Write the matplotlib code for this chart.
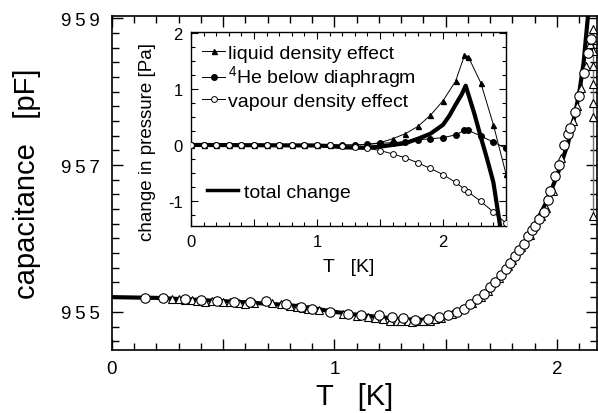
import matplotlib
matplotlib.use("Agg")
import matplotlib.pyplot as plt
from matplotlib.ticker import MultipleLocator, FixedLocator, FuncFormatter
from matplotlib.lines import Line2D

plt.rcParams['font.family'] = ['Liberation Sans', 'DejaVu Sans']
plt.rcParams['mathtext.fontset'] = 'custom'
plt.rcParams['mathtext.rm'] = 'Liberation Sans'

# ---------------- main data ----------------
circ_T = [0.15, 0.23, 0.33, 0.40, 0.47, 0.55, 0.62, 0.69, 0.78, 0.85, 0.90, 0.98, 1.06, 1.12,
          1.20, 1.26, 1.31, 1.36, 1.42, 1.47, 1.51, 1.55, 1.58, 1.61, 1.64, 1.67, 1.70, 1.72,
          1.75, 1.77, 1.79, 1.81, 1.83, 1.85, 1.87, 1.89, 1.90, 1.92, 1.94, 1.96, 1.97, 1.99,
          2.01, 2.03, 2.05, 2.06, 2.08, 2.10, 2.12, 2.14, 2.153]
circ_C = [955.19, 955.19, 955.17, 955.16, 955.15, 955.14, 955.13, 955.15, 955.11, 955.07, 955.04,
          955.00, 954.97, 954.96, 954.95, 954.93, 954.91, 954.89, 954.90, 954.93, 954.96, 955.00,
          955.04, 955.10, 955.17, 955.24, 955.34, 955.40, 955.50, 955.58, 955.66, 955.76, 955.84,
          955.93, 956.03, 956.12, 956.17, 956.26, 956.36, 956.52, 956.64, 956.85, 957.00, 957.27,
          957.42, 957.50, 957.72, 957.94, 958.25, 958.53, 958.71]

tri_T = [0.27, 0.30, 0.33, 0.36, 0.38, 0.42, 0.45, 0.50, 0.53, 0.57, 0.60, 0.64, 0.72, 0.76,
         0.80, 0.83, 0.86, 0.88, 0.93, 1.04, 1.10, 1.15, 1.18, 1.22, 1.25, 1.28, 1.30, 1.33,
         1.35, 1.38, 1.40, 1.43, 1.45, 1.48, 1.53, 1.62, 1.66, 1.69, 1.74, 1.78, 1.80, 1.84,
         1.88, 1.93, 1.95, 1.98, 2.02, 2.07, 2.09, 2.11, 2.13, 2.15,
         2.163, 2.163, 2.163, 2.163, 2.163, 2.163, 2.163, 2.163]
tri_C = [955.18, 955.17, 955.16, 955.16, 955.15, 955.14, 955.15, 955.13, 955.13, 955.12, 955.11,
         955.12, 955.12, 955.10, 955.08, 955.06, 955.05, 955.04, 955.02, 954.97, 954.94, 954.93,
         954.91, 954.90, 954.88, 954.88, 954.87, 954.87, 954.86, 954.87, 954.87, 954.88, 954.90,
         954.92, 954.97, 955.12, 955.20, 955.28, 955.46, 955.62, 955.70, 955.88, 956.05, 956.30,
         956.42, 956.65, 957.10, 957.60, 957.80, 958.05, 958.35, 958.65,
         958.85, 958.70, 958.55, 958.35, 958.10, 957.85, 957.65, 956.30]

fit_T = [0.0, 0.2, 0.4, 0.6, 0.8, 0.9, 1.0, 1.1, 1.2, 1.3, 1.4, 1.5, 1.55, 1.6, 1.65, 1.7,
         1.75, 1.8, 1.85, 1.9, 1.95, 2.0, 2.05, 2.08, 2.1, 2.12, 2.14, 2.15]
fit_C = [955.20, 955.19, 955.16, 955.13, 955.09, 955.05, 955.00, 954.96, 954.93, 954.90,
         954.89, 954.93, 954.98, 955.06, 955.16, 955.29, 955.46, 955.68, 955.92, 956.18,
         956.48, 956.85, 957.30, 957.68, 957.98, 958.40, 959.05, 959.30]

# ---------------- inset data ----------------
ins_T = [0.0, 0.1, 0.2, 0.3, 0.4, 0.5, 0.6, 0.7, 0.8, 0.9, 1.0, 1.1, 1.2, 1.3, 1.4, 1.5,
         1.6, 1.7, 1.8, 1.9, 2.0, 2.1, 2.17, 2.2, 2.3, 2.4, 2.5]
liquid_P = [0, 0, 0, 0, 0, 0, 0, 0, 0, 0, 0, 0, 0, 0, 0.01, 0.04,
            0.11, 0.20, 0.33, 0.53, 0.79, 1.14, 1.60, 1.58, 1.11, 0.36, -0.52]
he_P = [0, 0, 0, 0, 0, 0, 0, 0, 0, 0, 0, 0, 0, 0, 0.01, 0.03,
        0.04, 0.06, 0.09, 0.11, 0.13, 0.18, 0.26, 0.26, 0.16, 0.05, -0.06]
vapour_P = [0, 0, 0, 0, 0, 0, 0, 0, 0, 0, 0, -0.01, -0.02, -0.04, -0.06, -0.10,
            -0.16, -0.23, -0.32, -0.42, -0.53, -0.67, -0.79, -0.84, -1.01, -1.20, -1.40]
total_T = [0.0, 0.5, 1.0, 1.1, 1.2, 1.3, 1.4, 1.5, 1.6, 1.7, 1.8, 1.9, 2.0, 2.05, 2.1,
           2.15, 2.18, 2.25, 2.3, 2.35, 2.4, 2.45, 2.48]
total_P = [0.0, -0.005, -0.01, -0.02, -0.04, -0.05, -0.05, -0.03, 0.0, 0.03, 0.11, 0.20,
           0.36, 0.52, 0.72, 0.91, 1.06, 0.55, 0.14, -0.25, -0.67, -1.40, -1.90]

labels = ['liquid density effect', r'$^{4}$He below diaphragm', 'vapour density effect']

fig = plt.figure(figsize=(5.98, 4.14), dpi=100)
ax = fig.add_axes([112/598, 63/414, 485/598, 334/414])

ax.plot(fit_T, fit_C, color='black', lw=3.0, zorder=2, solid_capstyle='butt')
ax.plot(tri_T[-8:], tri_C[-8:], color='0.45', lw=1.0, zorder=2)
ax.plot(tri_T, tri_C, ls='none', marker='^', ms=6.0, mfc='white', mec='black', mew=0.8, zorder=3)
ax.plot(circ_T, circ_C, ls='none', marker='o', ms=6.8, mfc='white', mec='black', mew=0.8, zorder=4)

ax.set_xlim(0, 2.18)
ax.set_ylim(954.48, 959.03)
ax.xaxis.set_major_locator(MultipleLocator(0.5))
ax.xaxis.set_minor_locator(MultipleLocator(0.1))
ax.xaxis.set_major_formatter(FuncFormatter(lambda v, p: f'{v:.0f}' if abs(v - round(v)) < 1e-6 else ''))
ax.yaxis.set_major_locator(FixedLocator([955, 957, 959]))
ax.yaxis.set_minor_locator(MultipleLocator(0.2))
ax.yaxis.set_major_formatter(FuncFormatter(lambda v, p: '\u2009'.join(f'{v:.0f}')))
ax.tick_params(which='both', direction='in', top=True, right=True, width=1.0, labelsize=13.5)
ax.tick_params(which='major', length=8)
ax.tick_params(which='minor', length=5)
ax.tick_params(axis='y', pad=9)
ax.tick_params(axis='x', pad=7)
for s in ax.spines.values():
    s.set_linewidth(1.2)
ax.set_xlabel('T   [K]', fontsize=21, labelpad=4)
ax.set_ylabel('capacitance   [pF]', fontsize=21, labelpad=14)

# ---------------- inset ----------------
ins = fig.add_axes([191/598, (414-227)/414, 315/598, 194/414])
ins.set_facecolor('white')
ins.plot(total_T, total_P, color='black', lw=3.0, zorder=2)
l1, = ins.plot(ins_T, liquid_P, color='black', lw=0.7, marker='^', ms=3.6, mfc='black', mec='black', zorder=3)
l2, = ins.plot(ins_T, he_P, color='black', lw=0.7, marker='o', ms=4.0, mfc='black', mec='black', zorder=3)
l3, = ins.plot(ins_T, vapour_P, color='black', lw=0.7, marker='o', ms=4.2, mfc='white', mec='black', mew=0.7, zorder=4)
ins.set_xlim(0, 2.5)
ins.set_ylim(-1.45, 2.02)
ins.xaxis.set_major_locator(MultipleLocator(0.5))
ins.xaxis.set_minor_locator(MultipleLocator(0.1))
ins.xaxis.set_major_formatter(FuncFormatter(lambda v, p: f'{v:.0f}' if abs(v - round(v)) < 1e-6 else ''))
ins.yaxis.set_major_locator(MultipleLocator(1))
ins.yaxis.set_minor_locator(MultipleLocator(0.25))
ins.yaxis.set_major_formatter(FuncFormatter(lambda v, p: f'{v:.0f}'))
ins.tick_params(which='both', direction='in', top=True, right=True, width=0.8, labelsize=12)
ins.tick_params(which='major', length=5)
ins.tick_params(which='minor', length=3)
ins.tick_params(axis='y', pad=6)
ins.tick_params(axis='x', pad=6)
for s in ins.spines.values():
    s.set_linewidth(1.0)
ins.set_xlabel('T   [K]', fontsize=14, labelpad=6)
ins.set_ylabel('change in pressure [Pa]', fontsize=13.5)
ins.yaxis.set_label_coords(-0.11, 0.44)

leg = ins.legend([l1, l2, l3], labels, loc='upper left', bbox_to_anchor=(0.035, 0.935),
                 frameon=False, fontsize=14, handlelength=1.2, handletextpad=0.15,
                 labelspacing=0.08, borderpad=0, borderaxespad=0, numpoints=1)
ins.add_artist(leg)
tot = Line2D([], [], color='black', lw=2.5)
ins.legend([tot], ['total change'], loc='center left', bbox_to_anchor=(0.05, 0.175),
           frameon=False, fontsize=14, handlelength=1.6, handletextpad=0.3,
           borderpad=0, borderaxespad=0)

fig.savefig('out.png', dpi=100)
